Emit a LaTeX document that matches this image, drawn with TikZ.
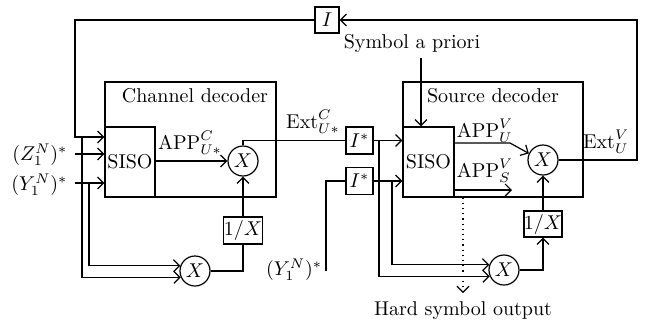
\documentclass[tikz,border=0pt]{standalone}
\usetikzlibrary{arrows.meta}
\begin{document}
\begin{tikzpicture}[x=0.5pt,y=-0.5pt,
  line width=0.6pt, >={Straight Barb[length=3pt,width=6pt]},
  blk/.style={draw, inner sep=0pt},
  mult/.style={draw, circle, minimum size=15pt, inner sep=0pt},
  lbl/.style={inner sep=0.5pt}]
\useasboundingbox (0,0) rectangle (645,328);

% ---------- channel decoder ----------
\node[blk, minimum width=85.5pt, minimum height=57.5pt] (cdec) at (190.5,139.5) {};
\node[lbl] (cdeclbl) at (195,96) {Channel decoder};
\node[blk, minimum width=25pt, minimum height=35pt] (csiso) at (130,162) {SISO};
\node[mult] (cx1) at (243,161) {$X$};
\node[mult] (cx2) at (195,271) {$X$};
\node[blk, minimum width=19.5pt, minimum height=13.5pt] (cinv) at (243,230.5) {$1/X$};
\node[lbl] (appc) at (190,143) {$\mathrm{APP}^{C}_{U*}$};
\node[lbl] (extc) at (313,122) {$\mathrm{Ext}^{C}_{U*}$};

% ---------- inputs ----------
\node[lbl, anchor=east] (zin) at (69,155) {$(Z_1^N)^*$};
\node[lbl, anchor=east] (yin) at (69,185) {$(Y_1^N)^*$};
\coordinate (zinE) at (75,154);
\coordinate (yinE) at (75,183);

% ---------- feedback interleaver ----------
\node[blk, minimum width=12pt, minimum height=13pt] (ibox) at (327,20) {$I$};

% ---------- source decoder ----------
\node[blk, minimum width=90pt, minimum height=57.5pt] (sdec) at (493,139.5) {};
\node[lbl] (sdeclbl) at (493,96) {Source decoder};
\node[blk, minimum width=25.5pt, minimum height=35pt] (ssiso) at (428.5,162) {SISO};
\node[mult] (sx1) at (543,160) {$X$};
\node[mult] (sx2) at (504,270) {$X$};
\node[blk, minimum width=19pt, minimum height=13pt] (sinv) at (543,224) {$1/X$};
\node[blk, minimum size=13.5pt] (ist1) at (359.5,140.5) {$I^*$};
\node[blk, minimum size=13.5pt] (ist2) at (359.5,181) {$I^*$};
\node[lbl] (appu) at (485,131) {$\mathrm{APP}^{V}_{U}$};
\node[lbl] (apps) at (485,171) {$\mathrm{APP}^{V}_{S}$};
\node[lbl] (extv) at (606,142) {$\mathrm{Ext}^{V}_{U}$};
\node[lbl] (sap) at (412,43) {Symbol a priori};
\node[lbl] (hso) at (463,311) {Hard symbol output};
\node[lbl] (ymid) at (294,270) {$(Y_1^N)^*$};

% ---------- coordinates ----------
\coordinate (fbR) at (637,20);
\coordinate (fbL) at (75,137);
\coordinate (brA) at (82,137);
\coordinate (brB) at (89,183);
\coordinate (brC) at (379,140.5);
\coordinate (brD) at (392,181);
\coordinate (ymb) at (326,271);
\coordinate (sapT) at (421,58);
\coordinate (kU) at (510,143);
\coordinate (kS) at (512,190);
\coordinate (hs) at (463,293);

% ---------- connectors ----------
\draw[->] (sx1.east) -| (fbR) -- (ibox.east);
\draw[->] (ibox.west) -| (fbL) -- (fbL -| csiso.west);
\draw[->] (brA) |- (cx2.204);
\draw[->] (zinE) -- (zinE -| csiso.west);
\draw[->] (yinE) -- (yinE -| csiso.west);
\draw[->] (brB) |- (cx2.160);
\draw[->] (cx1.west -| csiso.east) -- (cx1.west);
\draw (cx1.north) |- (ist1.west);
\draw (cx2.east) -| (cinv.south);
\draw[->] (cinv.north) -- (cx1.south);

\draw[->] (ist1.east) -- (ist1.east -| ssiso.west);
\draw[->] (ist2.east) -- (ist2.east -| ssiso.west);
\draw[->] (brC) |- (sx2.204);
\draw[->] (brD) |- (sx2.160);
\draw (ymb) |- (ist2.west);
\draw[->] (sapT) -- (sapT |- ssiso.north);
\draw[->] (kU -| ssiso.east) -- (kU) -- (sx1.155);
\draw[->] (kS -| ssiso.east) -- (kS);
\draw[->] (sx2.east) -| (sinv.south);
\draw[->] (sinv.north) -- (sx1.south);
\draw[dotted,->] (hs |- ssiso.south) -- (hs);
\end{tikzpicture}
\end{document}
